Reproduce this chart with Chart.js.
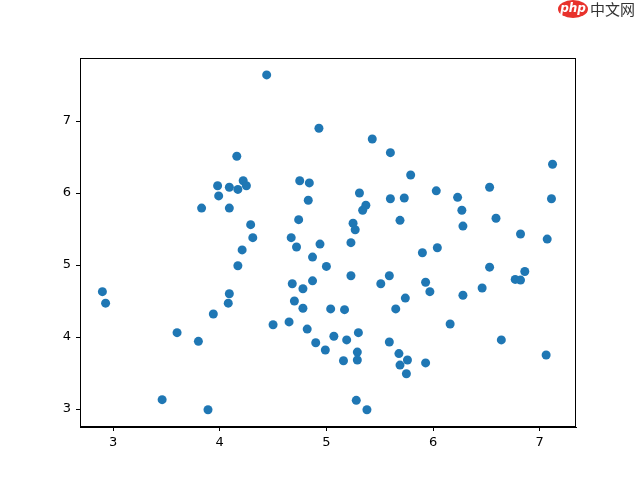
<!DOCTYPE html>
<html>
<head>
<meta charset="utf-8">
<script src="https://cdn.jsdelivr.net/npm/chart.js@4.4.1/dist/chart.umd.min.js"></script>
<style>
  body { margin: 0; background: #fff; }
  canvas { display: block; }
</style>
</head>
<body>
<canvas id="scatterChart" width="640" height="480"></canvas>
<script>
const xValues = [2.90, 2.93, 3.46, 3.60, 3.80, 3.89, 3.94, 3.83, 3.98, 3.99,
    4.09, 4.09, 4.09, 4.08, 4.16, 4.17, 4.22, 4.25, 4.17, 4.21,
    4.29, 4.31, 4.44, 4.50, 4.65, 4.67, 4.68, 4.70, 4.72, 4.74,
    4.75, 4.78, 4.78, 4.82, 4.83, 4.84, 4.87, 4.87, 4.90, 4.93,
    4.94, 4.99, 5.00, 5.04, 5.07, 5.16, 5.17, 5.19, 5.23, 5.23,
    5.25, 5.27, 5.28, 5.29, 5.29, 5.30, 5.31, 5.34, 5.37, 5.38,
    5.43, 5.51, 5.59, 5.59, 5.60, 5.60, 5.65, 5.68, 5.69, 5.69,
    5.73, 5.74, 5.75, 5.76, 5.79, 5.90, 5.93, 5.93, 5.97, 6.03,
    6.04, 6.16, 6.23, 6.27, 6.28, 6.28, 6.46, 6.53, 6.53, 6.59,
    6.64, 6.77, 6.82, 6.82, 6.86, 7.06, 7.07, 7.11, 7.12];
const yValues = [4.63, 4.47, 3.13, 4.06, 3.94, 2.99, 4.32, 5.79, 6.10, 5.96,
    6.08, 5.79, 4.60, 4.47, 6.51, 6.05, 6.17, 6.10, 4.99, 5.21,
    5.56, 5.38, 7.64, 4.17, 4.21, 5.38, 4.74, 4.50, 5.25, 5.63,
    6.17, 4.67, 4.40, 4.11, 5.90, 6.14, 5.11, 4.78, 3.92, 6.90,
    5.29, 3.82, 4.98, 4.39, 4.01, 3.67, 4.38, 3.96, 4.85, 5.31,
    5.58, 5.49, 3.12, 3.79, 3.68, 4.06, 6.00, 5.76, 5.83, 2.99,
    6.75, 4.74, 3.93, 4.85, 6.56, 5.92, 4.39, 3.77, 5.62, 3.61,
    5.93, 4.54, 3.49, 3.68, 6.25, 5.17, 4.76, 3.64, 4.63, 6.03,
    5.24, 4.18, 5.94, 5.76, 5.54, 4.58, 4.68, 6.08, 4.97, 5.65,
    3.96, 4.80, 4.79, 5.43, 4.91, 3.75, 5.36, 5.92, 6.40];
const xTicks = [3, 4, 5, 6, 7];
const yTicks = [3, 4, 5, 6, 7];

const points = xValues.map((x, i) => ({ x: x, y: yValues[i] }));

// frame round the plot area + watermark text
const framePlugin = {
    id: 'frame',
    afterDraw(chart) {
        const { ctx, chartArea } = chart;
        ctx.save();
        ctx.strokeStyle = '#000';
        ctx.lineWidth = 1;
        ctx.strokeRect(chartArea.left + 0.5, chartArea.top + 0.5,
            chartArea.right - chartArea.left - 1, chartArea.bottom - chartArea.top - 1);

        ctx.fillStyle = '#e8322c';
        ctx.beginPath();
        ctx.ellipse(573, 9, 15, 9, 0, 0, Math.PI * 2);
        ctx.fill();
        ctx.fillStyle = '#fff';
        ctx.font = 'italic bold 12px "DejaVu Sans"';
        ctx.textAlign = 'center';
        ctx.textBaseline = 'middle';
        ctx.fillText('php', 573, 9);
        ctx.fillStyle = '#333';
        ctx.font = '15px "Noto Sans CJK SC"';
        ctx.textAlign = 'left';
        ctx.fillText('中文网', 590, 9);
        ctx.restore();
    }
};

const tickFont = { family: 'DejaVu Sans', size: 13 };

new Chart(document.getElementById('scatterChart').getContext('2d'), {
    type: 'scatter',
    data: {
        datasets: [{
            data: points,
            backgroundColor: '#1f77b4',
            borderWidth: 0,
            pointRadius: 4.5,
            pointHoverRadius: 4.5
        }]
    },
    options: {
        responsive: false,
        animation: false,
        events: [],
        layout: { padding: { top: 58, right: 64, left: 0, bottom: 0 } },
        plugins: { legend: { display: false }, tooltip: { enabled: false } },
        scales: {
            x: {
                type: 'linear',
                min: 2.69,
                max: 7.34,
                afterBuildTicks: scale => { scale.ticks = xTicks.map(v => ({ value: v })); },
                afterFit: scale => { scale.height = 53; },
                grid: { drawOnChartArea: false, drawTicks: true, tickLength: 4, color: '#000' },
                border: { display: true, color: '#000', width: 1 },
                ticks: { color: '#000', font: tickFont, padding: 4, maxRotation: 0 }
            },
            y: {
                type: 'linear',
                min: 2.75,
                max: 7.875,
                afterBuildTicks: scale => { scale.ticks = yTicks.map(v => ({ value: v })); },
                afterFit: scale => { scale.width = 80; },
                grid: { drawOnChartArea: false, drawTicks: true, tickLength: 4, color: '#000' },
                border: { display: true, color: '#000', width: 1 },
                ticks: { color: '#000', font: tickFont, padding: 5 }
            }
        }
    },
    plugins: [framePlugin]
});
</script>
</body>
</html>
